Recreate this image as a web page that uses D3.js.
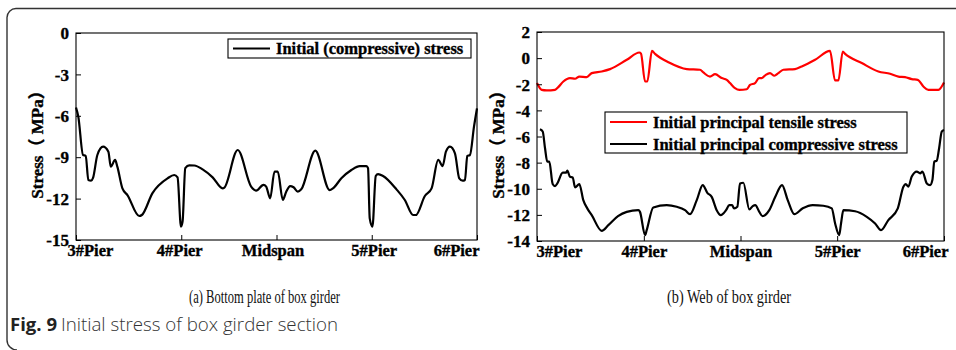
<!DOCTYPE html>
<html>
<head>
<meta charset="utf-8">
<script src="https://cdn.jsdelivr.net/npm/d3@7"></script>
<style>
  body { margin: 0; background: #fff; }
  svg { display: block; }
  .bold { paint-order: stroke; stroke: #000; stroke-width: 0.35px; }
</style>
</head>
<body>
<script>
// Positions along the bridge (relative units) and their labels
const pierPos = [0, 105, 200, 295, 400];
const pierLabels = ["3#Pier", "4#Pier", "Midspan", "5#Pier", "6#Pier"];

// (a) Bottom plate: initial (compressive) stress, MPa
const bottomX = [0,2.3,7,9.7,12.3,15,17,21.3,27,32.3,34.7,39,41.3,46.3,51.3,63,65.7,76.3,91.3,98,101.3,104.7,106.3,109,113,118,126.3,136.3,146.3,148,161.3,174.7,179.7,187,189.7,193.7,198,201.3,206.3,209.7,213.7,217,221.3,224.7,238.7,253,256.3,264.7,274.7,283,289.7,291.3,293,295.7,299,301.3,306.3,319.7,328,336.3,339,348,354.7,361.3,365.7,369,373,378,382.3,385.7,388,390.3,393,397,400];
const bottomStress = [-5.4,-6.06,-8.84,-8.9,-10.65,-10.7,-10.5,-8.84,-8.24,-8.6,-9.69,-9.2,-9.7,-11.26,-11.74,-13.26,-13.19,-11.6,-10.53,-10.29,-10.46,-14.03,-13.67,-9.8,-9.59,-9.6,-9.88,-10.46,-11.26,-11.2,-8.48,-11.13,-11.42,-11.0,-11.13,-11.98,-10.05,-10.05,-12.1,-11.5,-11.09,-11.18,-11.5,-11.33,-8.53,-11.38,-11.26,-10.53,-9.93,-9.64,-9.64,-9.8,-13.43,-14.03,-10.36,-10.22,-10.36,-11.33,-12.1,-13.19,-13.19,-11.81,-11.26,-9.2,-9.64,-8.6,-8.24,-8.72,-10.53,-10.7,-10.65,-8.91,-8.84,-6.79,-5.46];

// (b) Web: initial principal tensile stress, MPa
const tensileX = [0,4.6,9.5,17.7,20.9,25.9,32.4,37.4,41.6,48.9,53.8,63.6,71.8,88.2,100.6,102.2,106.2,108.4,113,116,129.7,147.2,160.2,163.5,170,175,181.6,186.5,189.7,194.6,198.9,206.1,209.4,214.3,218.2,220.9,224.8,229,233.3,237.2,242.1,253.6,260.2,273.3,288,292.9,296.2,300.5,302.8,319.2,335.5,347,355.2,361.7,368.3,374.2,379.7,384.6,394.5,400];
const tensileStress = [-1.91,-2.43,-2.47,-2.43,-2.22,-1.79,-1.53,-1.58,-1.41,-1.45,-1.15,-1.02,-0.84,-0.13,0.43,0.35,-1.79,-1.79,0.55,0.33,-0.33,-0.84,-0.89,-1.1,-1.41,-1.23,-1.53,-1.66,-1.91,-2.3,-2.43,-2.38,-2.05,-1.91,-1.53,-1.53,-1.28,-1.15,-1.35,-1.15,-0.89,-0.84,-0.64,-0.13,0.55,-1.71,-1.71,0.5,0.33,-0.38,-1.02,-1.2,-1.41,-1.45,-1.61,-1.66,-2.17,-2.43,-2.43,-1.87];

// (b) Web: initial principal compressive stress, MPa
const compX = [2.9,5.6,7.9,10.1,12.1,15.4,17.7,20,25.3,28.5,29.8,32.4,35.1,37.4,41.6,45.5,49.4,53.8,63.6,70.1,79.6,88.2,99.6,101.2,106.2,107.8,114.3,127.5,137.3,145.5,150.4,157,162.9,167.4,171.7,176.6,180.6,185.8,189,191.7,193.7,196.9,199.5,202.8,208.7,212,214.5,218.5,221.7,228.3,234.2,240.8,246.4,252.9,261.2,271,281.4,289.7,293,297,298.8,301.1,312.6,324.1,332.3,338.1,345.3,354.6,360.1,362.4,365,368.3,373.3,376.5,378.8,383.1,386.3,388.6,390.5,392.9,395.2,397.8,400];
const compStress = [-5.45,-5.62,-6.9,-7.93,-7.93,-9.64,-9.8,-9.59,-8.77,-8.77,-8.62,-9.08,-9.13,-9.9,-9.64,-10.87,-11.5,-12.02,-13.22,-12.79,-12.1,-11.77,-11.64,-11.77,-13.55,-13.17,-11.43,-11.25,-11.38,-11.64,-11.95,-10.87,-9.72,-10.31,-10.62,-11.64,-12.02,-11.64,-11.25,-11.25,-11.5,-11.38,-9.6,-9.54,-11.58,-11.33,-11.25,-11.77,-12.1,-11.64,-10.62,-9.72,-10.87,-11.95,-11.5,-11.25,-11.3,-11.5,-12.66,-13.55,-12.66,-11.64,-11.72,-12.15,-12.66,-13.17,-12.4,-11.5,-9.84,-9.64,-9.84,-9.07,-8.69,-8.82,-8.69,-9.59,-9.72,-9.33,-7.93,-7.85,-6.9,-5.62,-5.5];

const bottomTicks = [0, -3, -6, -9, -12, -15];
const webTicks = [2, 0, -2, -4, -6, -8, -10, -12, -14];

const W = 956, H = 350;
const serif = "'Liberation Serif', 'Times New Roman', serif";
const yTitle = "Stress\uFF08 MPa\uFF09";

const svg = d3.select("body").append("svg")
  .attr("width", W).attr("height", H);

// rounded figure frame
svg.append("path")
  .attr("d", "M956,8.5 H16 A9,9 0 0 0 7,17.5 V340 A10,10 0 0 0 17,350")
  .attr("fill", "none").attr("stroke", "#333").attr("stroke-width", 1.4);

function panel(cfg) {
  const x = d3.scaleLinear().domain([0, 400]).range([cfg.left, cfg.right]);
  const y = d3.scaleLinear().domain(cfg.yDomain).range([cfg.top, cfg.bottom]);
  const g = svg.append("g");

  // lines
  cfg.series.forEach(s => {
    const pts = s.xs.map((v, i) => [v, s.ys[i]]);
    g.append("path")
      .datum(pts)
      .attr("fill", "none")
      .attr("stroke", s.color)
      .attr("stroke-width", 2.2)
      .attr("stroke-linejoin", "round")
      .attr("d", d3.line().x(d => x(d[0])).y(d => y(d[1])).curve(d3.curveMonotoneX));
  });

  // plot frame
  g.append("rect")
    .attr("x", cfg.left).attr("y", cfg.top)
    .attr("width", cfg.right - cfg.left).attr("height", cfg.bottom - cfg.top)
    .attr("fill", "none").attr("stroke", "#000").attr("stroke-width", 1.1);

  // y axis (ticks pointing inward)
  const ya = g.append("g").attr("transform", `translate(${cfg.left},0)`)
    .call(d3.axisRight(y).tickValues(cfg.yTicks).tickSize(5).tickFormat(d3.format("d")));
  ya.select(".domain").remove();
  ya.selectAll("line").attr("stroke", "#000");
  ya.selectAll("text")
    .attr("class", "bold")
    .attr("x", -7).attr("text-anchor", "end").attr("dy", "0.34em")
    .style("font-family", serif).style("font-weight", "bold").style("font-size", "17px")
    .attr("fill", "#000")
    .text(d => d < 0 ? "-" + Math.abs(d) : d);

  // x axis (ticks pointing inward)
  const xa = g.append("g").attr("transform", `translate(0,${cfg.bottom})`)
    .call(d3.axisTop(x).tickValues(pierPos).tickSize(5).tickFormat((d, i) => pierLabels[i]));
  xa.select(".domain").remove();
  xa.selectAll("line").attr("stroke", "#000");
  xa.selectAll("text")
    .attr("class", "bold")
    .attr("y", 16).attr("dy", 0)
    .style("font-family", serif).style("font-weight", "bold").style("font-size", "16.5px")
    .attr("fill", "#000")
    .attr("text-anchor", (d, i) => i === 0 ? "start" : (i === pierPos.length - 1 ? "end" : "middle"))
    .attr("x", (d, i) => i === 0 ? cfg.firstShift : (i === pierPos.length - 1 ? cfg.lastShift : cfg.midShift[i - 1]));

  // y axis title
  g.append("text")
    .attr("class", "bold")
    .attr("transform", `translate(${cfg.titleX},${(cfg.top + cfg.bottom) / 2 + 4}) rotate(-90)`)
    .attr("text-anchor", "middle")
    .style("font-family", serif + ", 'Noto Sans CJK SC'")
    .style("font-weight", "bold").style("font-size", "17px")
    .text(yTitle);

  // legend
  const L = cfg.legend;
  g.append("rect")
    .attr("x", L.x).attr("y", L.y).attr("width", L.w).attr("height", L.h)
    .attr("fill", "#fff").attr("stroke", "#000").attr("stroke-width", 1.1);
  cfg.series.forEach((s, i) => {
    const ly = L.y + L.first + i * L.step;
    g.append("line")
      .attr("x1", L.x + 5).attr("x2", L.x + 42)
      .attr("y1", ly).attr("y2", ly)
      .attr("stroke", s.color).attr("stroke-width", 2.2);
    g.append("text")
      .attr("class", "bold")
      .attr("x", L.x + 48).attr("y", ly + 5.5)
      .style("font-family", serif).style("font-weight", "bold").style("font-size", "16.5px")
      .text(s.name);
  });

  // caption
  svg.append("text")
    .attr("x", cfg.capX).attr("y", 303)
    .attr("textLength", cfg.capW).attr("lengthAdjust", "spacingAndGlyphs")
    .style("font-family", serif).style("font-size", "18px")
    .attr("fill", "#111")
    .text(cfg.caption);
}

panel({
  left: 76, right: 477, top: 33, bottom: 240,
  yDomain: [0, -15], yTicks: bottomTicks,
  titleX: 43,
  firstShift: -9, lastShift: 2, midShift: [-2, -4, 2],
  series: [{ name: "Initial (compressive) stress", color: "#000", xs: bottomX, ys: bottomStress }],
  legend: { x: 228, y: 39, w: 243, h: 19, first: 9.5, step: 22 },
  caption: "(a) Bottom plate of box girder", capX: 189, capW: 151
});

panel({
  left: 537, right: 944, top: 32, bottom: 241,
  yDomain: [2, -14], yTicks: webTicks,
  titleX: 504,
  firstShift: -1, lastShift: 4, midShift: [0, 0, 0],
  series: [
    { name: "Initial principal tensile stress", color: "#ff0000", xs: tensileX, ys: tensileStress },
    { name: "Initial principal compressive stress", color: "#000", xs: compX, ys: compStress }
  ],
  legend: { x: 605, y: 112, w: 302, h: 41, first: 10, step: 22 },
  caption: "(b) Web of box girder", capX: 667, capW: 124
});

// figure caption
svg.append("text")
  .attr("x", 10).attr("y", 331)
  .attr("textLength", 47).attr("lengthAdjust", "spacingAndGlyphs")
  .style("font-family", "'Open Sans', 'Noto Sans', sans-serif")
  .style("font-weight", "bold").style("font-size", "18px")
  .attr("fill", "#222")
  .text("Fig. 9");
svg.append("text")
  .attr("x", 61).attr("y", 331)
  .attr("textLength", 277).attr("lengthAdjust", "spacingAndGlyphs")
  .style("font-family", "'Open Sans', 'Noto Sans', sans-serif")
  .style("font-weight", "300").style("font-size", "18px")
  .attr("fill", "#333")
  .text("Initial stress of box girder section");
</script>
</body>
</html>
